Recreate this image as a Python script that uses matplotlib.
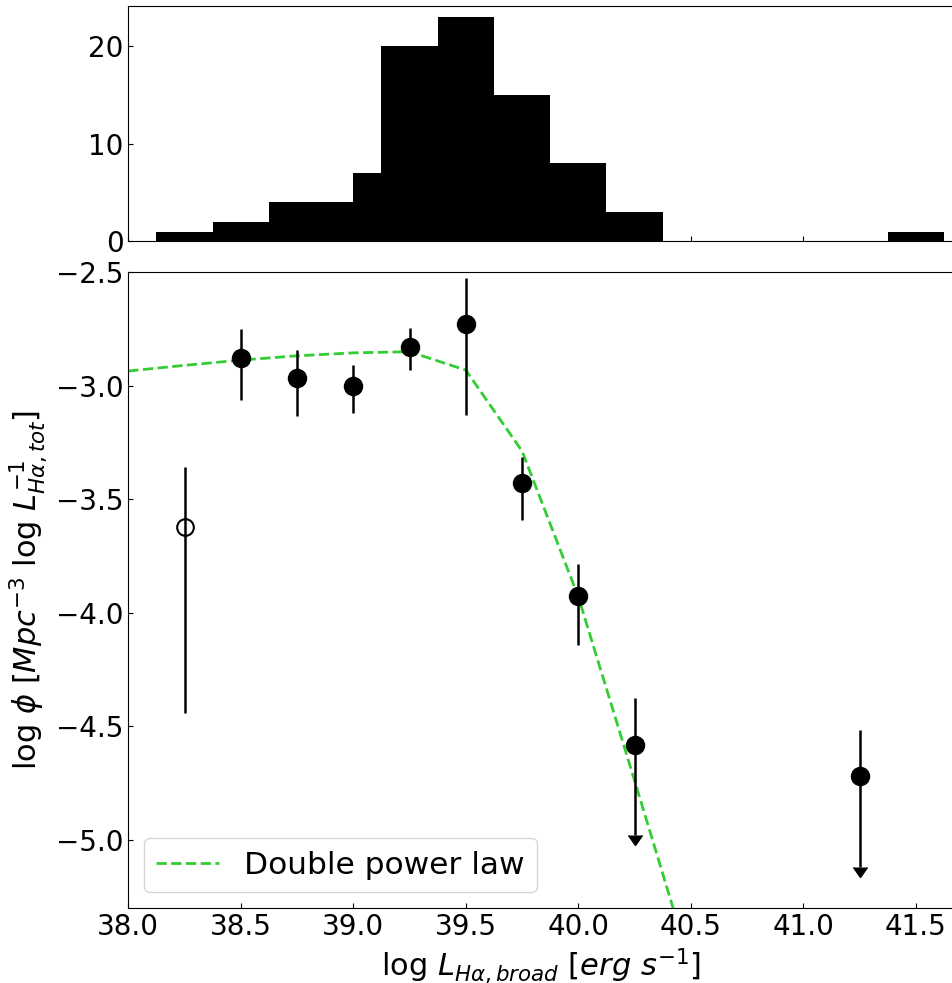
import matplotlib
matplotlib.use("Agg")
import matplotlib.pyplot as plt
import numpy as np

# histogram of broad H-alpha luminosities
hist_edges = [38.125, 38.375, 38.625, 39.0, 39.125, 39.375, 39.625, 39.875, 40.125, 40.375, 41.375, 41.625]
hist_counts = [1, 2, 4, 7, 20, 23, 15, 8, 3, 0, 1]

# luminosity function points
lum_x = [38.5, 38.75, 39.0, 39.25, 39.5, 39.75, 40.0]
lum_phi = [-2.879, -2.965, -3.001, -2.828, -2.728, -3.429, -3.926]
lum_err_lo = [0.183, 0.169, 0.118, 0.101, 0.403, 0.162, 0.216]
lum_err_hi = [0.129, 0.122, 0.091, 0.081, 0.202, 0.115, 0.140]

# incomplete bin (open symbol)
open_x = [38.25]
open_phi = [-3.622]
open_err_lo = [0.822]
open_err_hi = [0.265]

# upper limits
lim_x = [40.25, 41.25]
lim_phi = [-4.581, -4.720]
lim_err_hi = [0.203, 0.204]
lim_arrow = [0.40, 0.40]

# double power law fit
fit_x = [38.0, 38.25, 38.5, 38.75, 39.0, 39.25, 39.5, 39.75, 40.0, 40.25, 40.5]
fit_phi = [-2.935, -2.91, -2.887, -2.868, -2.855, -2.850, -2.931, -3.288, -3.93, -4.74, -5.56]

fig = plt.figure(figsize=(9.53, 9.83), dpi=100)
ax_hist = fig.add_axes([0.1346, 0.7545, 0.8654, 0.2397])
ax = fig.add_axes([0.1346, 0.0766, 0.8654, 0.6464])

centers = 0.5 * (np.array(hist_edges[:-1]) + np.array(hist_edges[1:]))
ax_hist.hist(centers, bins=hist_edges, weights=hist_counts, color="black")
ax_hist.set_xlim(38.0, 41.665)
ax_hist.set_ylim(0, 24.15)
ax_hist.set_yticks([0, 10, 20])
ax_hist.tick_params(direction="in", labelsize=20, labelbottom=False)

ax.plot(fit_x, fit_phi, "--", color="limegreen", lw=2, label="Double power law", zorder=1)
ax.errorbar(lum_x, lum_phi, yerr=[lum_err_lo, lum_err_hi], fmt="o", color="black",
            ms=13, elinewidth=1.8, zorder=3)
ax.errorbar(open_x, open_phi, yerr=[open_err_lo, open_err_hi], fmt="o", color="black",
            mfc="none", mew=1.5, ms=12, elinewidth=1.8, zorder=3)
ax.errorbar(lim_x, lim_phi, yerr=[[0, 0], lim_err_hi], fmt="o", color="black",
            ms=13, elinewidth=1.8, zorder=3)
ax.errorbar(lim_x, lim_phi, yerr=lim_arrow, uplims=True, fmt="none", color="black",
            elinewidth=1.8, capsize=5, zorder=3)

ax.set_xlim(38.0, 41.665)
ax.set_ylim(-5.3, -2.5)
ax.set_xticks([38.0, 38.5, 39.0, 39.5, 40.0, 40.5, 41.0, 41.5])
ax.set_yticks([-5.0, -4.5, -4.0, -3.5, -3.0, -2.5])
ax.tick_params(direction="in", labelsize=20)
ax.set_xlabel(r"log $L_{H\alpha, broad}$ [$erg\ s^{-1}$]", fontsize=22)
ax.set_ylabel(r"log $\phi$ [$Mpc^{-3}$ log $L_{H\alpha, tot}^{-1}$]", fontsize=22)
ax.legend(loc="lower left", fontsize=22.5)

fig.savefig("out.png", dpi=100)
